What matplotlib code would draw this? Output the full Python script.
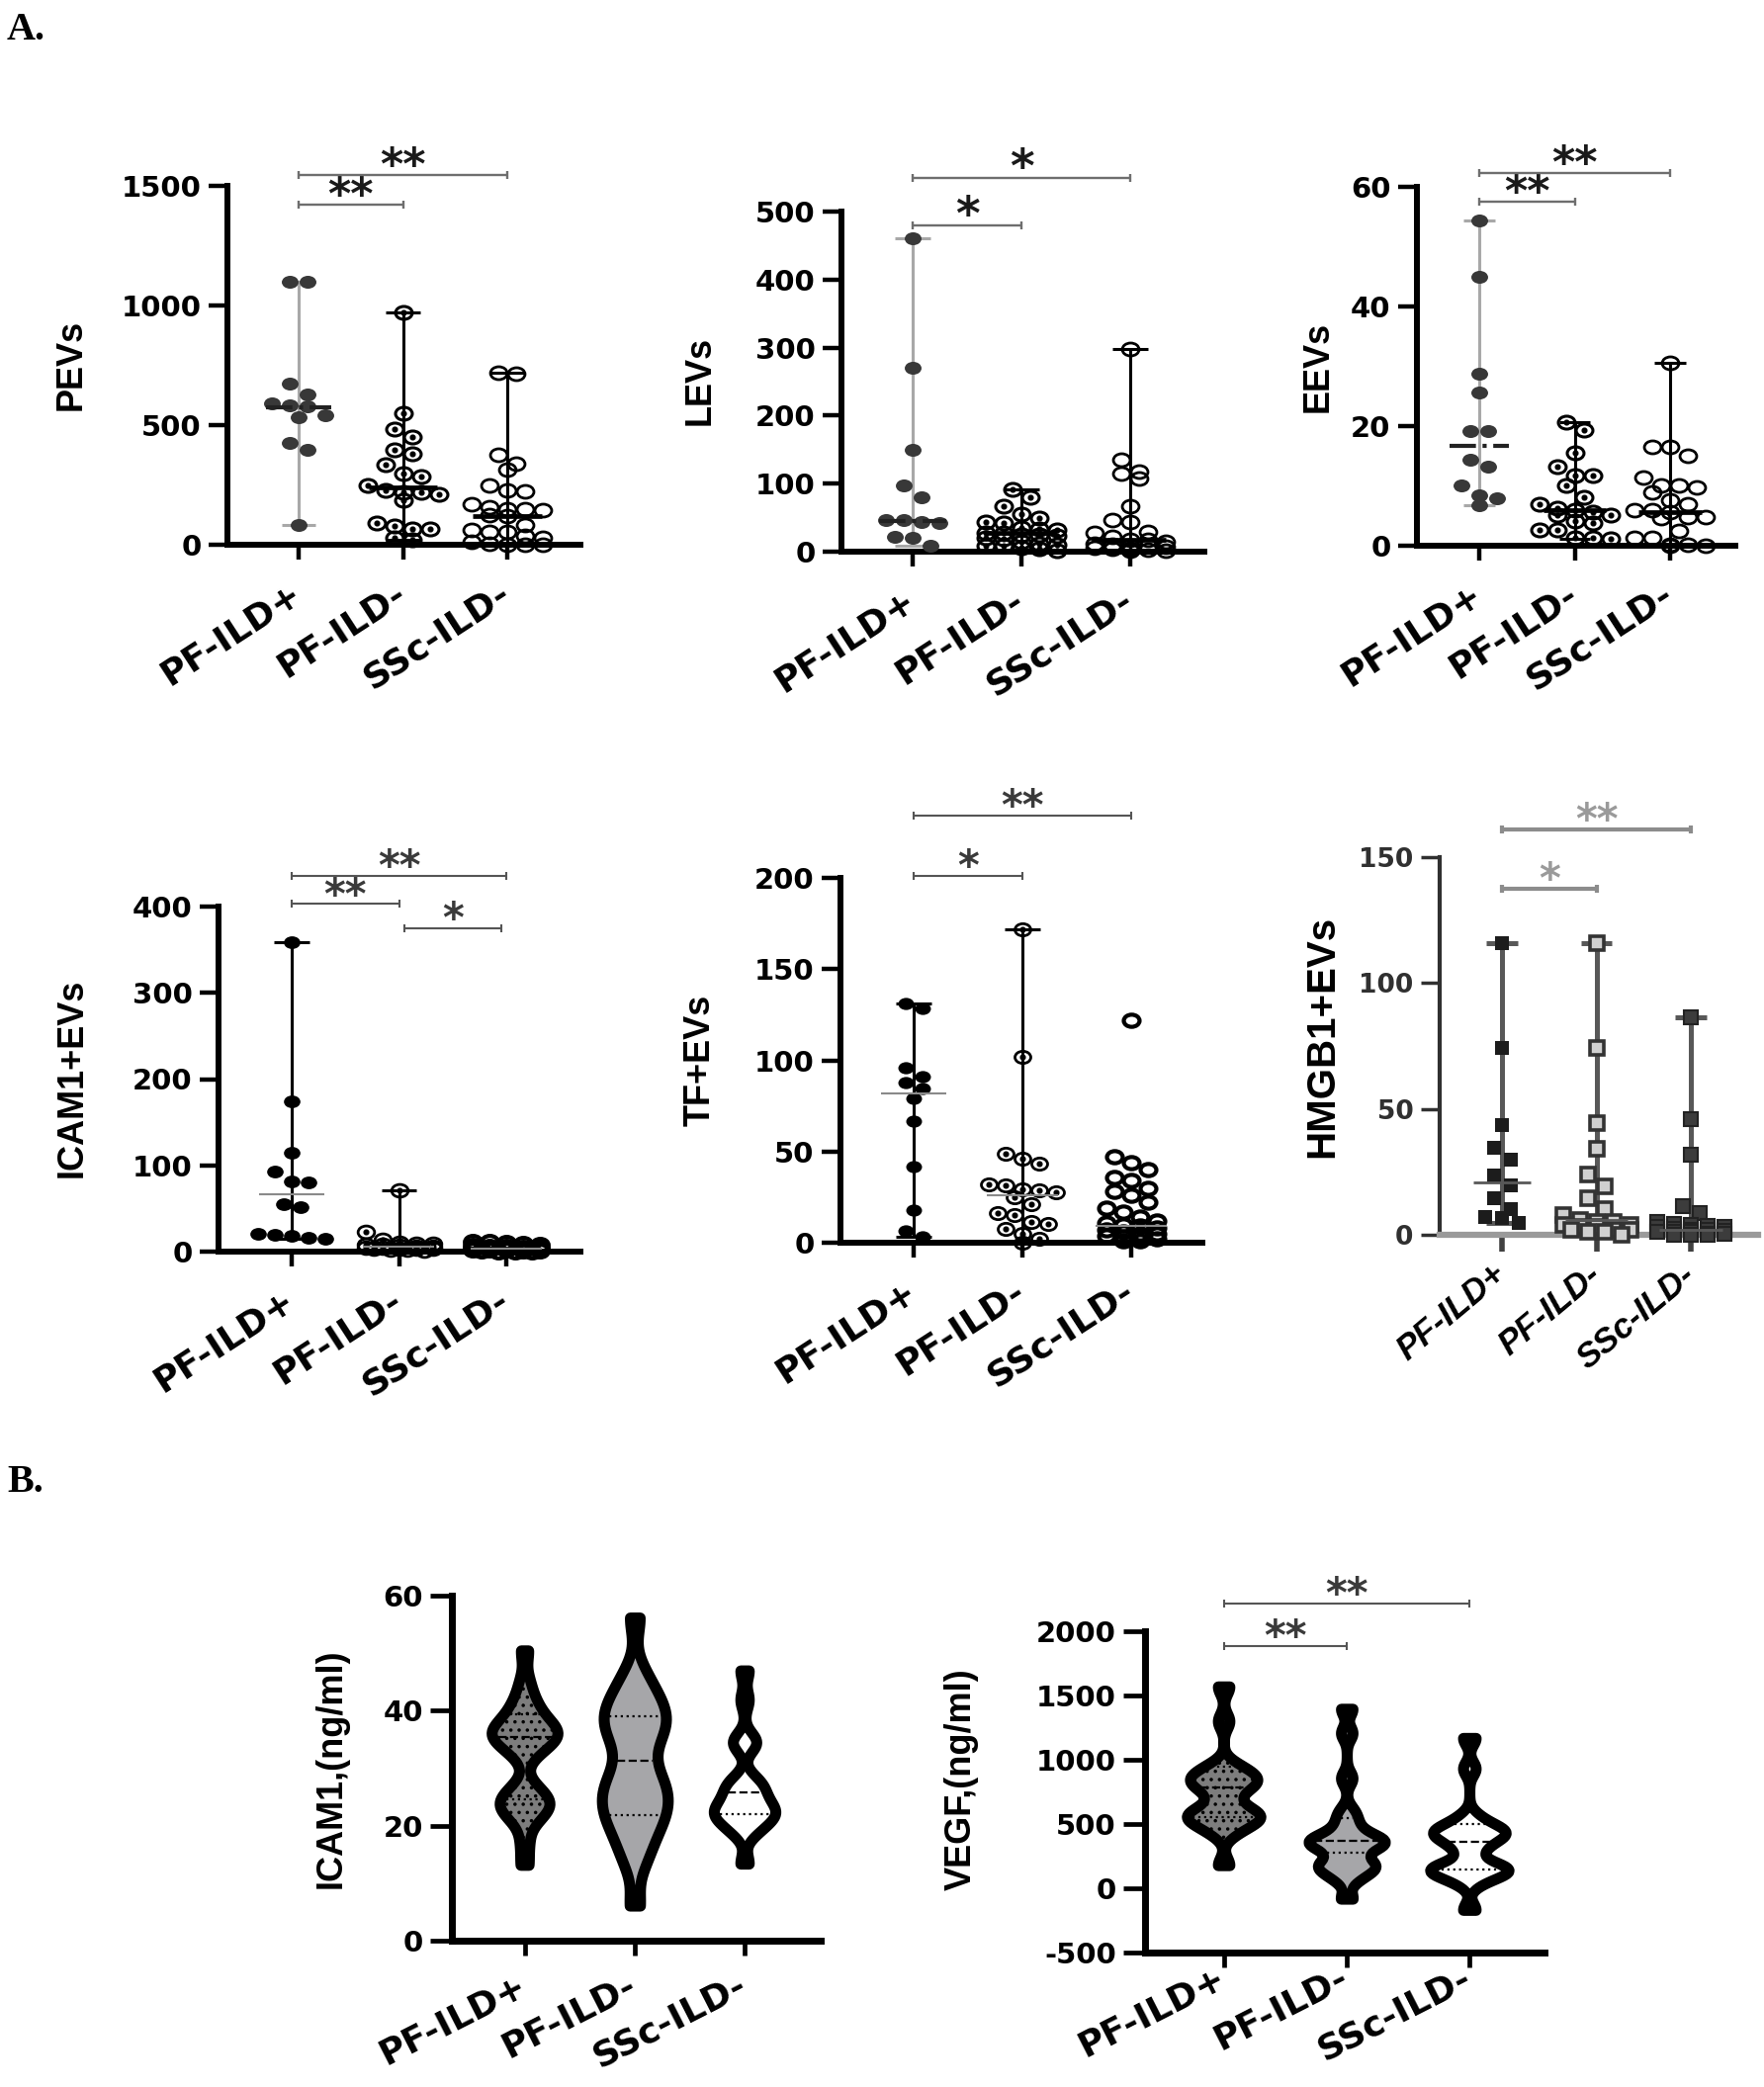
import numpy as np
import matplotlib
matplotlib.use("Agg")
import matplotlib.pyplot as plt
from matplotlib.path import Path
from matplotlib.transforms import Affine2D

W, H, DPI = 1784, 2111, 100

plt.rcParams.update({
    "font.family": "DejaVu Sans",
    "font.weight": "bold",
    "hatch.linewidth": 1.3,
    "axes.unicode_minus": False,
})

GROUPS = ["PF-ILD+", "PF-ILD-", "SSc-ILD-"]

# ── Panel A values ──────────────────────────────────────────────────────────
PEVS_POS = [1100, 1100, 672, 630, 590, 582, 580, 543, 532, 424, 396, 84]
PEVS_NEG = [970, 551, 483, 452, 396, 380, 335, 297, 285, 250, 228, 218, 218,
            210, 187, 92, 79, 68, 68, 28, 20]
PEVS_SSC = [717, 715, 377, 337, 313, 250, 226, 222, 171, 158, 150, 147, 145,
            125, 119, 84, 63, 55, 52, 36, 30, 14, 5, 2, 0, 0]
PEVS_MED = [575, 239, 119]

LEVS_POS = [461, 270, 150, 97, 80, 47, 46, 43, 42, 22, 20, 8]
LEVS_NEG = [92, 80, 67, 55, 50, 43, 42, 35, 33, 32, 28, 27, 25, 24, 23, 20, 19,
            15, 12, 10, 9, 8, 6, 5, 2]
LEVS_SSC = [298, 135, 118, 115, 107, 67, 47, 43, 29, 27, 22, 18, 17, 15, 12, 10,
            9, 8, 7, 6, 5, 4, 3, 2, 1]
LEVS_MED = [45, 27, 17]

EEVS_POS = [54.3, 44.9, 28.7, 25.6, 19.2, 19.2, 14.3, 13.2, 10.1, 8.4, 8.0, 6.8]
EEVS_NEG = [20.6, 19.3, 15.5, 13.3, 11.8, 11.8, 10.1, 8.1, 7.0, 6.2, 6.0, 5.7,
            5.1, 5.1, 4.1, 3.8, 2.7, 2.7, 1.3, 1.3, 1.2]
EEVS_SSC = [30.5, 16.6, 16.5, 15.1, 11.4, 10.1, 10.1, 9.8, 8.9, 7.6, 7.0, 6.0,
            6.0, 5.6, 4.8, 4.8, 4.6, 2.5, 1.3, 1.3, 0.2, 0.1, 0, 0]
EEVS_MED = [16.7, 6.0, 5.6]

ICAM_POS = [359, 174, 115, 93, 81, 80, 55, 52, 21, 19, 18, 16, 15]
ICAM_NEG = [71, 23, 14, 10, 9, 9, 8, 8, 7, 6, 6, 5, 5, 4, 4, 3, 3, 2, 2, 1]
ICAM_SSC = [12, 11, 10, 9, 8, 7, 6, 6, 5, 5, 4, 4, 3, 3, 3, 2, 2, 2, 1, 1, 1,
            0, 0, 0]
ICAM_MED = [66, 6, 3]

TF_POS = [131, 128.5, 96, 91, 88, 84.5, 79.4, 66.8, 41.8, 18.1, 6.4, 3.3]
TF_NEG = [172, 101.7, 49, 46, 43.6, 32, 31.4, 29, 28.5, 27.6, 25.2, 21, 16,
          15.3, 11.5, 10.4, 7.5, 4.9, 2, 0]
TF_SSC = [122, 47, 44, 40, 36, 34, 30, 28, 26, 22, 19, 17, 14, 12, 11, 10, 9,
          8, 7, 6, 5, 5, 4, 3, 3, 2, 1, 1]
TF_MED = [81.8, 26, 9.3]

HMGB1_POS = [116, 74.4, 43.7, 34.4, 30, 23.5, 19.5, 14.4, 10.4, 7.2, 6.7, 4.8]
HMGB1_NEG = [116, 74.4, 44.3, 34.1, 24, 19.2, 14.4, 10.4, 8, 6, 5, 5, 4, 4, 3,
             3, 2, 2, 2, 1, 1, 0]
HMGB1_SSC = [86.4, 46, 32, 11.2, 8.8, 5, 4.5, 4, 3.5, 3, 3, 2.5, 2, 2, 1.5,
             1.2, 1, 1, 0.5, 0.3, 0.1, 0, 0]
HMGB1_MED = [20.8, 5.9, 2]

# significance brackets: (group i, group j, height, label)
PEVS_SIG = [(0, 1, 1422, "**"), (0, 2, 1545, "**")]
LEVS_SIG = [(0, 1, 480, "*"), (0, 2, 550, "*")]
EEVS_SIG = [(0, 1, 57.5, "**"), (0, 2, 62.3, "**")]
ICAM_SIG = [(0, 1, 403, "**"), (0, 2, 436, "**"), (1.05, 1.95, 375, "*")]
TF_SIG = [(0, 1, 201, "*"), (0, 2, 234, "**")]
HMGB1_SIG = [(0, 1, 137.4, "*"), (0, 2, 161, "**")]

# ── Panel B values ───────────────────────────────────────────────────────────
ICAMS_POS = [13.1, 17, 20.5, 21.5, 22.5, 23, 23.5, 24, 24.5, 25, 26, 27,
             32, 33, 34, 34.5, 35, 35.5, 35.8, 36, 36.5, 37, 37.5, 38, 39, 40,
             41, 42.5, 45, 50.4]
ICAMS_NEG = [6.1, 13, 15.5, 17.5, 19, 20.5, 21.5, 22.5, 23.5, 24.5, 25.5, 26.5,
             27.5, 28.5, 30, 32, 34, 35.5, 36.5, 37.5, 38.5, 39.5, 40.5, 41.5,
             43, 44.5, 47, 56.2]
ICAMS_SSC = [13.4, 18.5, 19.5, 20.3, 21, 21.5, 22, 22.3, 22.7, 23.2, 23.8,
             24.5, 25.2, 26, 26.8, 27.5, 28.3, 33.8, 34.5, 35.2, 41.9, 47]
ICAMS_Q = [(24.5, 35.4, 39.3), (21.8, 31.3, 39.0), (22.0, 25.8, 30.2)]

VEGF_POS = [176, 420, 470, 500, 525, 545, 560, 575, 595, 620, 680, 740, 780,
            805, 825, 845, 865, 890, 920, 960, 1297, 1567]
VEGF_NEG = [-81, 60, 110, 140, 165, 180, 195, 230, 290, 320, 340, 355, 365,
            375, 390, 420, 470, 530, 600, 857, 1208, 1397]
VEGF_SSC = [-168, 40, 90, 115, 130, 145, 155, 170, 190, 280, 330, 370, 400,
            420, 435, 450, 470, 500, 560, 932, 1170]
VEGF_Q = [(554, 784, 950), (276, 370, 546), (149, 359, 500)]
VEGF_SIG = [(0, 1, 1886, "**"), (0, 2, 2216, "**")]

# ── helpers ─────────────────────────────────────────────────────────────────
fig = plt.figure(figsize=(W / DPI, H / DPI), dpi=DPI)

ELLIPSE = Path.unit_circle().transformed(Affine2D().scale(1.3, 1.0))


def px_axes(left, right, y_lo, y_hi):
    """Axes from pixel box (x to the right, y downwards from figure top)."""
    return fig.add_axes([left / W, 1 - y_lo / H, (right - left) / W, (y_lo - y_hi) / H])


def fig_text(x, y, s, **kw):
    return fig.text(x / W, 1 - y / H, s, **kw)


def ylabel(x, y, s, size=26):
    fig_text(x, y, s, rotation=90, ha="center", va="center", fontsize=size,
             family="Liberation Sans", fontweight="bold")


def swarm(vals, px_per_unit, col, row_px, max_cols):
    order = np.argsort(vals, kind="stable")[::-1]
    rows, cur = [], []
    for i in order:
        if cur and (vals[cur[0]] - vals[i]) * px_per_unit < row_px and len(cur) < max_cols:
            cur.append(i)
        else:
            if cur:
                rows.append(cur)
            cur = [i]
    rows.append(cur)
    offs = np.zeros(len(vals))
    for r in rows:
        for k, i in enumerate(r):
            offs[i] = (k - (len(r) - 1) / 2) * col
    return offs


def base_axes(box, cats, ylim, yticks, spine_lw=4.3, ylen=14, xlen=11, tw=3.2,
              ylab_size=21, xlab_size=26, rot=33, xpad=22, tick_color="black",
              xaxis_color="black", xaxis_lw=None, label_style="normal", xfamily=None):
    left, right, y_lo, y_hi = box
    d = (cats[1] - cats[0]) / 2
    ax = px_axes(left, right, y_lo, y_hi)
    ax.set_xlim((left - cats[0]) / d, (right - cats[0]) / d)
    ax.set_ylim(*ylim)
    ax.patch.set_alpha(0)
    for s in ("top", "right"):
        ax.spines[s].set_visible(False)
    ax.spines["left"].set_linewidth(spine_lw)
    ax.spines["left"].set_color(tick_color)
    ax.spines["bottom"].set_linewidth(xaxis_lw or spine_lw)
    ax.spines["bottom"].set_color(xaxis_color)
    ax.set_yticks(yticks)
    ax.set_xticks([0, 1, 2])
    ax.set_xticklabels(GROUPS, rotation=rot, ha="right", va="center",
                       rotation_mode="anchor", fontsize=xlab_size, fontweight="bold",
                       fontstyle=label_style, family=xfamily or "DejaVu Sans")
    ax.tick_params(axis="y", length=ylen, width=tw, labelsize=ylab_size, pad=5,
                   color=tick_color, labelcolor=tick_color)
    ax.tick_params(axis="x", length=xlen, width=tw, pad=xpad, color=tick_color)
    ax.ppu = (y_lo - y_hi) / (ylim[1] - ylim[0])
    ax.ppc = d
    return ax


def bracket(ax, i, j, y, label, color="#6e6e6e", lw=1.7, tcolor="#1a1a1a", fs=32):
    ax.plot([i, j], [y, y], color=color, lw=lw, marker="|", ms=6, mew=lw,
            clip_on=False, zorder=5, solid_capstyle="butt")
    ax.annotate(label, xy=((i + j) / 2, y), xytext=(0, -3), textcoords="offset points",
                ha="center", va="baseline", fontsize=fs, fontweight="bold",
                color=tcolor, annotation_clip=False)


def dot_groups(ax, data, medians, styles, ms, col_px, row_px=13):
    for k, (vals, med, st) in enumerate(zip(data, medians, styles)):
        vals = np.asarray(vals, float)
        offs = swarm(vals, ax.ppu, col_px / ax.ppc, row_px, st.get("cols", 5))
        if st.get("range", True):
            lo, hi = vals.min(), vals.max()
            cw = st.get("cw", 0.33)
            ax.plot([k, k], [lo, hi], color=st["rc"], lw=st.get("rlw", 2.2), zorder=1,
                    solid_capstyle="butt")
            for v in (lo, hi):
                ax.plot([k - cw / 2, k + cw / 2], [v, v], color=st["rc"],
                        lw=st.get("rlw", 2.2), zorder=1, solid_capstyle="butt")
        ax.plot(k + offs, vals, ls="none", marker=st.get("m", ELLIPSE), ms=ms,
                mfc=st["fc"], mec=st["ec"], mew=st.get("mew", 0), zorder=3, clip_on=False)
        if st.get("dot"):
            ax.plot(k + offs, vals, ls="none", marker="o", ms=3.4, mfc="black",
                    mec="black", zorder=4, clip_on=False)
        mw = st.get("mw", 0.66)
        ax.plot([k - mw / 2, k + mw / 2], [med, med], color=st["mc"], lw=st["mlw"],
                ls=st.get("mls", "-"), zorder=5, solid_capstyle="butt")


# ── styles ──────────────────────────────────────────────────────────────────
ROW1 = [
    dict(fc="#383838", ec="#383838", rc="#a8a8a8", mc="#222222", mlw=3, mls="-.", mw=0.62),
    dict(fc="none", ec="black", mew=2.2, dot=True, rc="black", mc="black", mlw=3.4),
    dict(fc="none", ec="black", mew=2.0, rc="black", mc="black", mlw=3.4),
]
ROW2 = [
    dict(fc="black", ec="black", rc="black", mc="#8a8a8a", mlw=1.5, mw=0.6),
    dict(fc="none", ec="black", mew=2.0, dot=True, rc="black", mc="#8a8a8a", mlw=1.5),
    dict(fc="none", ec="black", mew=3.0, range=False, mc="#8a8a8a", mlw=1.5, cols=4),
]
ICAM_ROW = ROW2[:2] + [dict(ROW2[2], cols=5)]
HMG = [
    dict(m="s", fc="#1c1c1c", ec="#1c1c1c", rc="#585858", rlw=3.6, mc="#585858", mlw=2, mw=0.6),
    dict(m="s", fc="#d0d0d0", ec="#333333", mew=2.6, rc="#585858", rlw=3.6, mc="#585858", mlw=2),
    dict(m="s", fc="#3c3c3c", ec="#222222", mew=1.5, rc="#585858", rlw=3.6, mc="#585858", mlw=2),
]

# ── Panel A, row 1 ──────────────────────────────────────────────────────────
ax = base_axes((230, 587, 551, 188), (302, 513), (0, 1500), [0, 500, 1000, 1500])
dot_groups(ax, [PEVS_POS, PEVS_NEG, PEVS_SSC], PEVS_MED, ROW1, ms=12.2, col_px=18)
for b in PEVS_SIG:
    bracket(ax, *b)
ylabel(72, 369, "PEVs")

ax = base_axes((851, 1218, 558, 214), (923, 1143), (0, 500), np.arange(0, 501, 100))
dot_groups(ax, [LEVS_POS, LEVS_NEG, LEVS_SSC], LEVS_MED, ROW1, ms=12.2, col_px=18)
for b in LEVS_SIG:
    bracket(ax, *b, fs=34)
ylabel(708, 385, "LEVs")

ax = base_axes((1433, 1755, 552, 189), (1496, 1689), (0, 60), [0, 20, 40, 60])
dot_groups(ax, [EEVS_POS, EEVS_NEG, EEVS_SSC], EEVS_MED, ROW1, ms=12.2, col_px=18)
for b in EEVS_SIG:
    bracket(ax, *b)
ylabel(1333, 371, "EEVs")

# ── Panel A, row 2 ──────────────────────────────────────────────────────────
ax = base_axes((221, 587, 1266, 917), (295, 512), (0, 400), np.arange(0, 401, 100))
dot_groups(ax, [ICAM_POS, ICAM_NEG, ICAM_SSC], ICAM_MED, ICAM_ROW, ms=12, col_px=17)
for b in ICAM_SIG:
    bracket(ax, *b, color="#555555", lw=1.5, tcolor="#3a3a3a", fs=30)
ylabel(73, 1090, "ICAM1+EVs")

ax = base_axes((850, 1216, 1257, 888), (924, 1144), (0, 200), np.arange(0, 201, 50))
dot_groups(ax, [TF_POS, TF_NEG, TF_SSC], TF_MED, ROW2, ms=11.5, col_px=17)
for b in TF_SIG:
    bracket(ax, *b, color="#555555", lw=1.5, tcolor="#3a3a3a", fs=30)
ylabel(708, 1072, "TF+EVs")

ax = base_axes((1456, 1778, 1249, 867), (1519, 1710), (0, 150), [0, 50, 100, 150],
               spine_lw=3, ylen=14, tw=2.5, ylab_size=19, rot=40, xpad=14,
               tick_color="#303030", xaxis_color="#9a9a9a", xaxis_lw=4.5,
               label_style="italic", xlab_size=25, xfamily="Liberation Sans")
ax.tick_params(axis="x", length=12, width=4, color="#404040")
dot_groups(ax, [HMGB1_POS, HMGB1_NEG, HMGB1_SSC], HMGB1_MED, HMG, ms=10, col_px=17)
for b in HMGB1_SIG:
    bracket(ax, *b, color="#8c8c8c", lw=3, tcolor="#9a9a9a", fs=30)
ylabel(1337, 1048, "HMGB1+EVs", size=29)


# ── Panel B: violins ────────────────────────────────────────────────────────
def violins(ax, samples, quarts, widths, bws, fills, hatches):
    for k, (s, w, bw, fc, ht, qs) in enumerate(zip(samples, widths, bws, fills, hatches, quarts)):
        parts = ax.violinplot([s], positions=[k], widths=w, showextrema=False, bw_method=bw)
        body = parts["bodies"][0]
        body.set_facecolor(fc)
        body.set_edgecolor("black")
        body.set_linewidth(8)
        body.set_alpha(1)
        body.set_joinstyle("round")
        body.set_capstyle("round")
        if ht:
            body.set_hatch(ht)
        body.set_zorder(2)
        v = body.get_paths()[0].vertices
        right = v[v[:, 0] > k]
        srt = np.argsort(right[:, 1])
        inset = 5.5 / ax.ppc
        for q, ls in zip(qs, [":", "--", ":"]):
            half = np.interp(q, right[srt, 1], right[srt, 0]) - k - inset
            if half > 0:
                ax.plot([k - half, k + half], [q, q], color="black", lw=1.6, ls=ls, zorder=3)


FILLS = ["#7d7d7d", "#a6a6a9", "white"]
HATCHES = ["..", None, None]

ax = base_axes((457, 830, 1963, 1614), (531, 753), (0, 60), [0, 20, 40, 60],
               spine_lw=5, ylen=16, xlen=11, tw=3.4, rot=27, xpad=20)
violins(ax, [ICAMS_POS, ICAMS_NEG, ICAMS_SSC], ICAMS_Q, [0.6, 0.6, 0.56],
        [0.22, 0.25, 0.2], FILLS, HATCHES)
ylabel(335, 1789, "ICAM1,(ng/ml)")

ax = base_axes((1158, 1562, 1975, 1650), (1238, 1486), (-500, 2000),
               np.arange(-500, 2001, 500), spine_lw=5, ylen=16, xlen=11, tw=3.4,
               rot=27, xpad=6)
violins(ax, [VEGF_POS, VEGF_NEG, VEGF_SSC], VEGF_Q, [0.6, 0.62, 0.64],
        [0.2, 0.15, 0.18], FILLS, HATCHES)
for b in VEGF_SIG:
    bracket(ax, *b, color="#555555", lw=1.5, tcolor="#3a3a3a", fs=30)
ylabel(972, 1800, "VEGF,(ng/ml)")

# ── panel letters ───────────────────────────────────────────────────────────
fig_text(7, 40, "A.", fontsize=29, family="Liberation Serif", fontweight="bold",
         ha="left", va="baseline")
fig_text(7, 1509, "B.", fontsize=29, family="Liberation Serif", fontweight="bold",
         ha="left", va="baseline")

fig.savefig("out.png", dpi=DPI)
